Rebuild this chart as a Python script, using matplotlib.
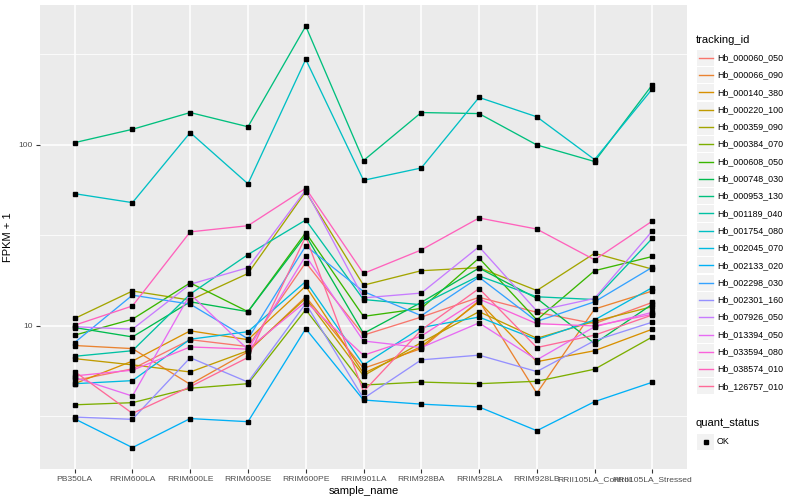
import numpy as np
import matplotlib
matplotlib.use("Agg")
import matplotlib.pyplot as plt
from matplotlib.patches import Rectangle
from matplotlib.ticker import NullFormatter, FixedLocator

plt.rcParams['font.family'] = ['Liberation Sans', 'DejaVu Sans']

samples = ["PB350LA", "RRIM600LA", "RRIM600LE", "RRIM600SE", "RRIM600PE",
           "RRIM901LA", "RRIM928BA", "RRIM928LA", "RRIM928LB",
           "RRII105LA_Control", "RRII105LA_Stressed"]

tracking_ids = ["Hb_000060_050", "Hb_000066_090", "Hb_000140_380", "Hb_000220_100",
                "Hb_000359_090", "Hb_000384_070", "Hb_000608_050", "Hb_000748_030",
                "Hb_000953_130", "Hb_001189_040", "Hb_001754_080", "Hb_002045_070",
                "Hb_002133_020", "Hb_002298_030", "Hb_002301_160", "Hb_007926_050",
                "Hb_013394_050", "Hb_033594_080", "Hb_038574_010", "Hb_126757_010"]

# FPKM + 1 per sample (order of `samples`)
hb_000060_050 = [5.0, 5.8, 8.4, 7.7, 22.4, 8.9, 11.2, 14.4, 11.9, 10.3, 13.5]
hb_000066_090 = [7.8, 7.5, 4.76, 7.2, 14.5, 5.84, 7.5, 13.8, 4.25, 12.4, 15.6]
hb_000140_380 = [4.8, 6.4, 9.4, 8.4, 16.6, 5.48, 7.7, 13.6, 6.35, 7.3, 9.6]
hb_000220_100 = [6.6, 6.1, 5.57, 7.3, 14.2, 5.31, 8.1, 12.0, 8.55, 10.6, 12.8]
hb_000359_090 = [11.0, 15.6, 13.9, 19.5, 55.2, 16.8, 20.2, 21.0, 15.7, 25.2, 20.6]
hb_000384_070 = [3.67, 3.77, 4.53, 4.8, 12.3, 4.72, 4.9, 4.8, 4.95, 5.77, 8.7]
hb_000608_050 = [8.9, 10.9, 17.3, 12.0, 32.8, 11.3, 12.5, 23.7, 10.8, 20.2, 24.2]
hb_000748_030 = [9.8, 8.7, 13.6, 12.0, 31.7, 9.1, 13.5, 20.9, 14.2, 8.0, 13.2]
hb_000953_130 = [103, 122, 151, 126, 453, 82, 151, 149, 100, 81, 215]
hb_001189_040 = [6.8, 7.3, 15.0, 24.8, 38.5, 14.0, 13.1, 18.9, 14.5, 14.0, 30.5]
hb_001754_080 = [53.8, 48, 117, 61, 297, 63.8, 74.6, 183, 143, 83, 204]
hb_002045_070 = [4.8, 4.99, 8.45, 9.3, 17.6, 6.1, 9.8, 11.2, 8.4, 10.8, 16.3]
hb_002133_020 = [3.07, 2.13, 3.08, 2.96, 9.66, 3.9, 3.7, 3.57, 2.64, 3.82, 4.89]
hb_002298_030 = [8.1, 14.8, 13.2, 8.5, 27.7, 15.5, 11.4, 18.6, 10.6, 13.6, 21.1]
hb_002301_160 = [3.14, 3.05, 6.68, 4.9, 13.3, 3.98, 6.5, 6.9, 5.6, 8.3, 10.5]
hb_007926_050 = [9.9, 9.6, 17.0, 21.0, 56.4, 14.3, 15.2, 27.4, 12.1, 14.2, 33.5]
hb_013394_050 = [5.2, 4.1, 15.0, 7.4, 24.4, 8.26, 7.6, 10.4, 6.5, 9.9, 11.9]
hb_033594_080 = [5.3, 5.7, 7.66, 7.45, 13.6, 6.89, 8.8, 14.1, 10.3, 10.0, 11.6]
hb_038574_010 = [10.1, 12.9, 33.1, 35.8, 57.6, 19.5, 26.3, 39.5, 34.3, 23.2, 38.0]
hb_126757_010 = [5.6, 3.29, 4.62, 6.7, 31.2, 4.34, 9.5, 16.1, 7.6, 8.9, 11.5]

series = [hb_000060_050, hb_000066_090, hb_000140_380, hb_000220_100, hb_000359_090,
          hb_000384_070, hb_000608_050, hb_000748_030, hb_000953_130, hb_001189_040,
          hb_001754_080, hb_002045_070, hb_002133_020, hb_002298_030, hb_002301_160,
          hb_007926_050, hb_013394_050, hb_033594_080, hb_038574_010, hb_126757_010]

quant_status = ["OK"]


def hcl_hex(h, c=100.0, l=65.0):
    xn, yn, zn = 95.047, 100.0, 108.883
    un = 4 * xn / (xn + 15 * yn + 3 * zn)
    vn = 9 * yn / (xn + 15 * yn + 3 * zn)
    hr = np.deg2rad(h)
    u = c * np.cos(hr)
    v = c * np.sin(hr)
    Y = yn * ((l + 16) / 116) ** 3
    up = u / (13 * l) + un
    vp = v / (13 * l) + vn
    X = Y * 9 * up / (4 * vp)
    Z = Y * (12 - 3 * up - 20 * vp) / (4 * vp)
    X, Y, Z = X / 100, Y / 100, Z / 100
    r = 3.240479 * X - 1.537150 * Y - 0.498535 * Z
    g = -0.969256 * X + 1.875992 * Y + 0.041556 * Z
    b = 0.055648 * X - 0.204043 * Y + 1.057311 * Z

    def gam(t):
        t = min(max(t, 0.0), 1.0)
        return 12.92 * t if t <= 0.0031308 else 1.055 * t ** (1 / 2.4) - 0.055
    return '#%02X%02X%02X' % tuple(int(round(gam(t) * 255)) for t in (r, g, b))


n = len(tracking_ids)
hues = np.linspace(15, 375, n + 1)[:n]
colors = [hcl_hex(h) for h in hues]

fig = plt.figure(figsize=(8, 5), dpi=100)
W, H = 800, 500
L, R, T, B = 40, 687, 5, 469
ax = fig.add_axes([L / W, 1 - B / H, (R - L) / W, (B - T) / H])
ax.set_facecolor('#EBEBEB')
for s in ax.spines.values():
    s.set_visible(False)

x = np.arange(len(samples))
for vals, col in zip(series, colors):
    ax.plot(x, vals, color=col, lw=0.95, zorder=3, solid_capstyle='butt')
for vals in series:
    ax.plot(x, vals, ls='none', marker='s', ms=2.4, color='black', zorder=4)

ax.set_yscale('log')
ax.set_ylim(10 ** 0.21, 10 ** 2.773)
ax.set_xlim(-0.6, len(samples) - 1 + 0.6)
ax.yaxis.set_major_locator(FixedLocator([10, 100]))
ax.yaxis.set_minor_locator(FixedLocator([10 ** 0.5, 10 ** 1.5, 10 ** 2.5]))
ax.yaxis.set_minor_formatter(NullFormatter())
ax.set_yticklabels(['10', '100'])
ax.set_xticks(x)
ax.set_xticklabels(samples)
ax.grid(which='major', axis='both', color='white', lw=1.1, zorder=0)
ax.grid(which='minor', axis='y', color='white', lw=0.55, zorder=0)
ax.set_axisbelow(True)
ax.tick_params(which='major', length=3, width=0.8, color='#333333',
               labelcolor='#4D4D4D', labelsize=6.1, pad=2)
ax.tick_params(which='minor', length=0)
ax.set_xlabel('sample_name', fontsize=8, color='black', labelpad=2)
ax.set_ylabel('FPKM + 1', fontsize=8, color='black', labelpad=4)

# legend drawn in pixel coordinates
ov = fig.add_axes([0, 0, 1, 1], facecolor='none')
ov.set_xlim(0, W)
ov.set_ylim(H, 0)
ov.axis('off')

ov.text(696, 40, 'tracking_id', fontsize=8, va='center', ha='left', color='black')
y0, dy = 57.7, 17.3
for i, (tid, col) in enumerate(zip(tracking_ids, colors)):
    yc = y0 + i * dy
    ov.add_patch(Rectangle((697, yc - 8.1), 17, 16.2, facecolor='#F2F2F2',
                           edgecolor='none'))
    ov.plot([698.5, 712.5], [yc, yc], color=col, lw=1.0)
    ov.text(717, yc, tid, fontsize=6.4, va='center', ha='left', color='black')

ov.text(696, 423, 'quant_status', fontsize=8, va='center', ha='left', color='black')
yq = 442
ov.add_patch(Rectangle((697, yq - 8.1), 17, 16.2, facecolor='#F2F2F2', edgecolor='none'))
ov.plot([705.5], [yq], marker='s', ms=2.4, color='black', ls='none')
ov.text(717, yq, quant_status[0], fontsize=6.4, va='center', ha='left', color='black')

fig.savefig('out.png', dpi=100, facecolor='white')
